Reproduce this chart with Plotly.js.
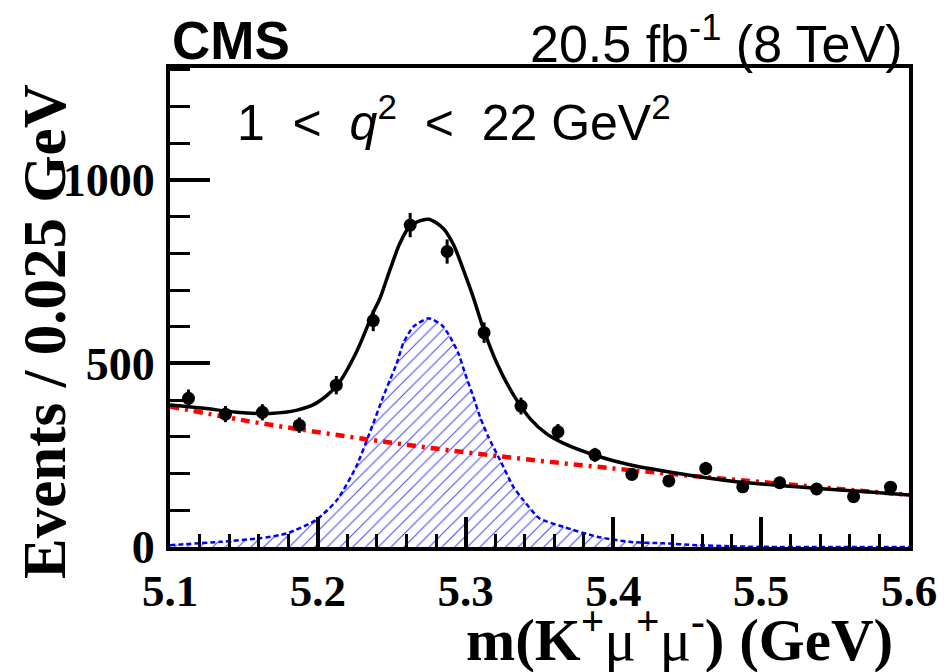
<!DOCTYPE html>
<html>
<head>
<meta charset="utf-8">
<script src="https://cdn.plot.ly/plotly-3.0.1.min.js"></script>
<style>html,body{margin:0;padding:0;background:#fff;}#chart{width:946px;height:672px;}</style>
</head>
<body>
<div id="chart"></div>
<script>
// Data points (bin centres, events / 0.025 GeV)
var binCentres = [5.1125, 5.1375, 5.1625, 5.1875, 5.2125, 5.2375, 5.2625, 5.2875, 5.3125, 5.3375,
                  5.3625, 5.3875, 5.4125, 5.4375, 5.4625, 5.4875, 5.5125, 5.5375, 5.5625, 5.5875];
var events     = [405, 362, 367, 332, 441, 617, 877, 805, 584, 384,
                  314, 251, 198, 180, 214, 164, 175, 158, 137, 163];
var eventErr   = [24, 22, 22, 21, 25, 29, 33, 33, 28, 23,
                  21, 19, 17, 16, 18, 16, 16, 15, 14, 15];

// Signal component (blue dashed, hatched)
var sigX = [5.100, 5.134, 5.161, 5.179, 5.199, 5.213, 5.226, 5.235, 5.2443, 5.2488, 5.2534, 5.2578, 5.2646, 5.2748,
            5.2838, 5.2894, 5.2951, 5.2996, 5.3052, 5.3097, 5.3154, 5.3233, 5.3323, 5.339, 5.350, 5.366,
            5.389, 5.411, 5.434, 5.456, 5.479, 5.500, 5.600];
var sigY = [5, 14, 24, 37, 74, 128, 219, 310, 410, 455, 500, 555, 600, 623,
            605, 573, 528, 473, 410, 355, 300, 237, 164, 128, 78, 55,
            28, 14, 10, 5, 2, 0.5, 0];

// Background component (red dash-dot)
var bkgX = [5.10, 5.15, 5.20, 5.25, 5.30, 5.35, 5.40, 5.45, 5.50, 5.55, 5.60];
var bkgY = [383, 345, 313, 284, 258, 235, 214, 195, 177, 159, 142];

// Total fit (black solid)
var totX = [5.100, 5.123, 5.145, 5.168, 5.186, 5.199, 5.213, 5.226, 5.2376, 5.242, 5.2488, 5.2556, 5.2625, 5.2748,
            5.2849, 5.2917, 5.2985, 5.3052, 5.312, 5.321, 5.3323, 5.3436, 5.3549, 5.366, 5.389, 5.411,
            5.434, 5.479, 5.524, 5.569, 5.600];
var totY = [387, 378, 367, 364, 373, 392, 440, 530, 640, 677, 755, 828, 875, 893,
            868, 825, 755, 680, 595, 502, 415, 350, 308, 283, 248, 224,
            207, 180, 164, 151, 142];

var xTickVals = [5.1, 5.2, 5.3, 5.4, 5.5, 5.6];
var xTickText = ["5.1", "5.2", "5.3", "5.4", "5.5", "5.6"];
var yTickVals = [0, 500, 1000];
var yTickText = ["0", "500", "1000"];

var serif = "Liberation Serif, Times New Roman, serif";
var sans = "Liberation Sans, Arial, Helvetica, sans-serif";

var traces = [
  {
    x: sigX, y: sigY, type: "scatter", mode: "lines",
    line: {color: "#0000ff", width: 2.5, dash: "5px,3px", shape: "spline", smoothing: 0.6},
    fill: "tozeroy", fillcolor: "rgba(0,0,0,0)",
    fillpattern: {shape: "/", size: 9, solidity: 0.12, fgcolor: "#4a4aff", bgcolor: "rgba(0,0,0,0)"},
    hoverinfo: "skip"
  },
  {
    x: bkgX, y: bkgY, type: "scatter", mode: "lines",
    line: {color: "#ff0000", width: 4.5, dash: "9px,6px,3px,6px", shape: "spline"},
    hoverinfo: "skip"
  },
  {
    x: totX, y: totY, type: "scatter", mode: "lines",
    line: {color: "#000000", width: 3.5, shape: "spline", smoothing: 0.8},
    hoverinfo: "skip"
  },
  {
    x: binCentres, y: events, type: "scatter", mode: "markers",
    marker: {color: "#000000", size: 13},
    error_y: {type: "data", array: eventErr, visible: true, color: "#000000", thickness: 3, width: 0}
  }
];

var layout = {
  width: 946, height: 672,
  margin: {l: 170, r: 37, t: 68, b: 125, pad: 0},
  paper_bgcolor: "#ffffff", plot_bgcolor: "#ffffff",
  showlegend: false,
  xaxis: {
    range: [5.1, 5.6], tickmode: "array", tickvals: xTickVals, ticktext: xTickText,
    ticks: "inside", ticklen: 30, tickwidth: 4, tickcolor: "#000",
    showline: true, linewidth: 4, linecolor: "#000", mirror: true,
    showgrid: false, zeroline: false,
    minor: {tickmode: "linear", tick0: 5.1, dtick: 0.02, ticks: "inside", ticklen: 13, tickwidth: 3, tickcolor: "#000", showgrid: false},
    tickfont: {family: serif, size: 45, weight: "bold", color: "#000"},
    ticklabelstandoff: 1
  },
  yaxis: {
    range: [0, 1305], tickmode: "array", tickvals: yTickVals, ticktext: yTickText,
    ticks: "inside", ticklen: 40, tickwidth: 4, tickcolor: "#000",
    showline: true, linewidth: 4, linecolor: "#000", mirror: true,
    showgrid: false, zeroline: false,
    minor: {tickmode: "linear", tick0: 0, dtick: 100, ticks: "inside", ticklen: 20, tickwidth: 3, tickcolor: "#000", showgrid: false},
    tickfont: {family: serif, size: 46, weight: "bold", color: "#000"},
    ticklabelstandoff: 2
  },
  annotations: [
    {text: "Events / 0.025 GeV", xref: "paper", yref: "paper", x: -0.169, y: 0.449,
     xanchor: "center", yanchor: "middle", textangle: -90, showarrow: false,
     font: {family: serif, size: 61, weight: "bold", color: "#000"}},
    {text: "m(K<sup>+</sup><span style=\"font-weight:normal\">μ</span><sup>+</sup><span style=\"font-weight:normal\">μ</span><sup>-</sup>)&nbsp;(GeV)",
     xref: "paper", yref: "paper", x: 0.981, y: -0.184,
     xanchor: "right", yanchor: "middle", showarrow: false,
     font: {family: serif, size: 59, weight: "bold", color: "#000"}},
    {text: "CMS", xref: "paper", yref: "paper", x: 0.0, y: 1.058,
     xanchor: "left", yanchor: "middle", showarrow: false,
     font: {family: sans, size: 53, weight: "bold", color: "#000"}},
    {text: "20.5 fb<sup>-1</sup> (8 TeV)", xref: "paper", yref: "paper", x: 0.995, y: 1.058,
     xanchor: "right", yanchor: "middle", showarrow: false,
     font: {family: sans, size: 52, color: "#000"}},
    {text: "1&nbsp;&nbsp;&lt;&nbsp;&nbsp;<i>q</i><sup>2</sup>&nbsp;&nbsp;&lt;&nbsp;&nbsp;22 GeV<sup>2</sup>", xref: "paper", yref: "paper", x: 0.088, y: 0.893,
     xanchor: "left", yanchor: "middle", showarrow: false,
     font: {family: sans, size: 50, color: "#000"}}
  ]
};

Plotly.newPlot("chart", traces, layout, {staticPlot: true, displayModeBar: false});
</script>
</body>
</html>
